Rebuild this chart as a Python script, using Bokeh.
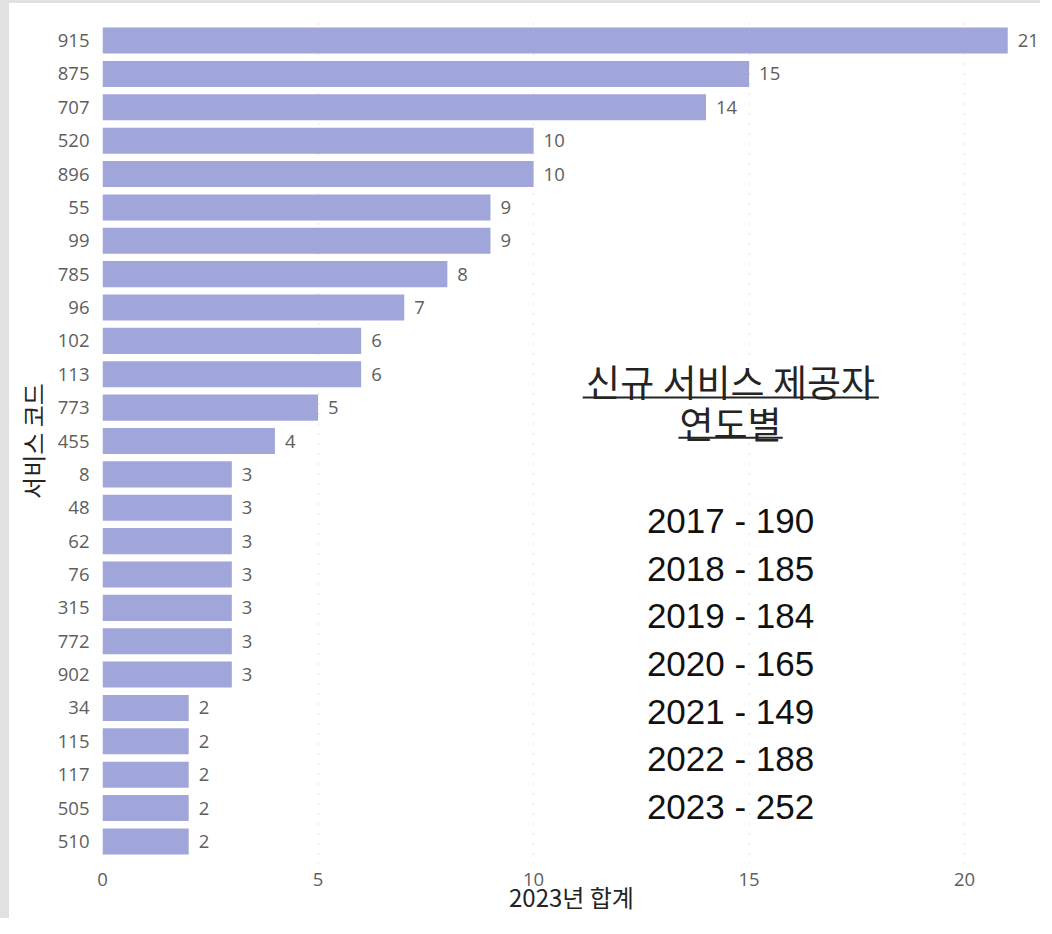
from bokeh.plotting import figure
from bokeh.models import ColumnDataSource, FactorRange, Range1d, SingleIntervalTicker
from bokeh.core.properties import value
from bokeh.embed import file_html
from bokeh.resources import INLINE

# ---- data ----
codes = ["915", "875", "707", "520", "896", "55", "99", "785", "96", "102",
         "113", "773", "455", "8", "48", "62", "76", "315", "772", "902",
         "34", "115", "117", "505", "510"]
totals_2023 = [21, 15, 14, 10, 10, 9, 9, 8, 7, 6,
               6, 5, 4, 3, 3, 3, 3, 3, 3, 3,
               2, 2, 2, 2, 2]
years = [2017, 2018, 2019, 2020, 2021, 2022, 2023]
new_providers = [190, 185, 184, 165, 149, 188, 252]
title_lines = ["신규 서비스 제공자", "연도별"]
x_title = "2023년 합계"
y_title = "서비스 코드"

BAR = "#A0A6DA"
TICK = "#605E5C"
DARK = "#252423"

src = ColumnDataSource(dict(code=codes, total=totals_2023,
                            label=[str(v) for v in totals_2023]))

x_end = 21.76
p = figure(width=1040, height=918, output_backend="svg", toolbar_location=None,
           y_range=FactorRange(factors=list(reversed(codes)), range_padding=0.19,
                               range_padding_units="absolute"),
           x_range=Range1d(0, x_end),
           min_border_left=93, min_border_right=9, min_border_top=14, min_border_bottom=57)
p.styles = {"border-left": "9px solid #E1E1E1", "border-top": "3px solid #E1E1E1"}
p.border_fill_color = "white"
p.outline_line_color = None

p.hbar(y="code", left=0, right="total", height=0.78, source=src,
       fill_color=BAR, line_color=None)
p.text(x="total", y="code", text="label", source=src, x_offset=10,
       text_baseline="middle", text_align="left", text_color=TICK,
       text_font=value("Open Sans"), text_font_size="18.5px")

# annotation block
ann_x = 14.57
p.text(x=[ann_x], y=[14.31], text=[title_lines[0]], text_align="center",
       text_baseline="middle", text_color=DARK,
       text_font=value("Noto Sans CJK KR"), text_font_size="37px")
p.text(x=[ann_x], y=[13.05], text=[title_lines[1]], text_align="center",
       text_baseline="middle", text_color=DARK,
       text_font=value("Noto Sans CJK KR"), text_font_size="37px")
p.segment(x0=[11.14, 13.36], x1=[18.01, 15.78], y0=[13.80, 12.60], y1=[13.80, 12.60],
          line_color=DARK, line_width=2)

ann_y0 = 10.12
ann_step = 1.429
p.text(x=[ann_x] * len(years), y=[ann_y0 - ann_step * i for i in range(len(years))],
       text=[f"{y} - {n}" for y, n in zip(years, new_providers)],
       text_align="center", text_baseline="middle", text_color="#111111",
       text_font=value("Liberation Sans"), text_font_size="35px")

# axes
p.xaxis.ticker = SingleIntervalTicker(interval=5)
for ax in (p.xaxis[0], p.yaxis[0]):
    ax.axis_line_color = None
    ax.major_tick_line_color = None
    ax.minor_tick_line_color = None
    ax.major_tick_out = 0
    ax.major_tick_in = 0
    ax.minor_tick_out = 0
    ax.minor_tick_in = 0
    ax.major_label_text_color = TICK
    ax.major_label_text_font = "Open Sans"
    ax.major_label_text_font_size = "18.5px"
    ax.axis_label_text_font = "Noto Sans CJK KR"
    ax.axis_label_text_font_size = "24px"
    ax.axis_label_text_font_style = "normal"
    ax.axis_label_text_color = DARK
p.xaxis.axis_label = x_title
p.yaxis.axis_label = y_title
p.xaxis.major_label_standoff = 8
p.xaxis.axis_label_standoff = -10
p.yaxis.major_label_standoff = 13
p.yaxis.axis_label_standoff = 5

p.ygrid.visible = False
p.xgrid.grid_line_color = "#C8C6C4"
p.xgrid.grid_line_dash = "1 9"
p.xgrid.grid_line_width = 1

open("out.html", "w").write(file_html(p, INLINE))
